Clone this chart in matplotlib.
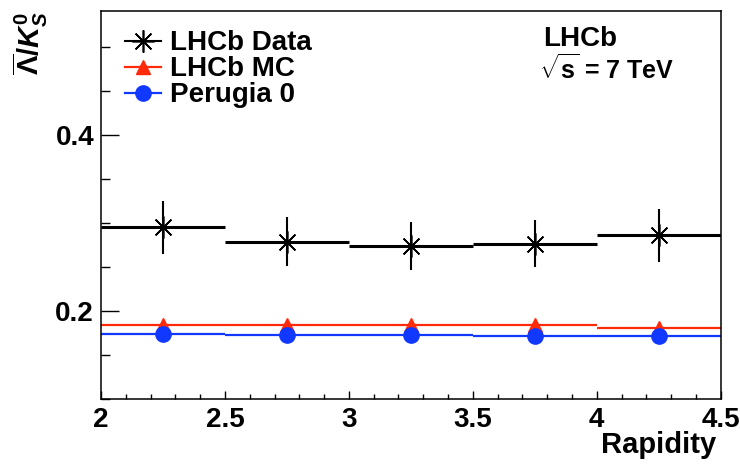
import matplotlib as mpl
mpl.use("Agg")
import matplotlib.pyplot as plt
import numpy as np
from matplotlib.lines import Line2D
from matplotlib.ticker import MultipleLocator, FixedLocator

mpl.rcParams.update({
    "font.family": "Liberation Sans",
    "font.weight": "bold",
    "mathtext.fontset": "custom",
    "mathtext.rm": "Liberation Sans:bold",
    "mathtext.it": "Liberation Sans:italic:bold",
    "mathtext.bf": "Liberation Sans:bold",
})

# rapidity bins
edges = [2.0, 2.5, 3.0, 3.5, 4.0, 4.5]
centers = [2.25, 2.75, 3.25, 3.75, 4.25]
data = [0.295, 0.279, 0.274, 0.2765, 0.286]
data_err = [0.030, 0.028, 0.027, 0.027, 0.030]
mc = [0.1845, 0.1845, 0.184, 0.1837, 0.181]
perugia = [0.174, 0.1727, 0.1727, 0.172, 0.1712]

RED = "#ff2a0a"
BLUE = "#1038ff"
STAR = (8, 2, 0)

fig = plt.figure(figsize=(7.4, 4.68), dpi=100)
ax = fig.add_axes([0.1365, 0.1474, 0.8375, 0.829])

ax.hlines(mc, edges[:-1], edges[1:], color=RED, lw=1.6)
ax.plot(centers, mc, ls="none", marker="^", ms=10, color=RED)
ax.hlines(perugia, edges[:-1], edges[1:], color=BLUE, lw=1.6)
ax.plot(centers, perugia, ls="none", marker="o", ms=11, color=BLUE)
ax.hlines(data, edges[:-1], edges[1:], color="black", lw=2.2)
ax.errorbar(centers, data, yerr=data_err, fmt="none", ecolor="black", elinewidth=1.5)
ax.plot(centers, data, ls="none", marker=STAR, ms=16, mew=1.2, color="black")

ax.set_xlim(2.0, 4.5)
ax.set_ylim(0.1, 0.541)
ax.xaxis.set_major_locator(MultipleLocator(0.5))
ax.xaxis.set_minor_locator(MultipleLocator(0.1))
ax.yaxis.set_major_locator(FixedLocator([0.2, 0.4]))
ax.yaxis.set_minor_locator(MultipleLocator(0.05))
ax.xaxis.set_major_formatter(mpl.ticker.FuncFormatter(lambda v, p: f"{v:g}"))
ax.yaxis.set_major_formatter(mpl.ticker.FuncFormatter(lambda v, p: f"{v:.1f}"))
ax.tick_params(axis="both", which="both", direction="in", labelsize=20, width=1.0)
ax.tick_params(axis="x", which="major", length=6, pad=6)
ax.tick_params(axis="x", which="minor", length=3.6)
ax.tick_params(axis="y", which="major", length=13, pad=5)
ax.tick_params(axis="y", which="minor", length=6.5)
for s in ax.spines.values():
    s.set_linewidth(1.1)

ax.set_xlabel("Rapidity", fontsize=21, fontweight="bold", loc="right")
ax.xaxis.set_label_coords(0.9935, -0.083)
ax.set_ylabel(r"$\overline{\mathrm{\Lambda}}/K^{0}_{S}$", fontsize=21, loc="top")
ax.yaxis.set_label_coords(-0.082, 1.0)

handles = [
    Line2D([], [], color="black", lw=1.5, marker=STAR, ms=16, mew=1.2),
    Line2D([], [], color=RED, lw=1.6, marker="^", ms=10),
    Line2D([], [], color=BLUE, lw=1.6, marker="o", ms=11),
]
labels = ["LHCb Data", "LHCb MC", "Perugia 0"]
ax.legend(handles, labels, loc="upper left", bbox_to_anchor=(0.038, 0.95), frameon=False,
          fontsize=20, handlelength=1.3, handletextpad=0.35, labelspacing=0.0,
          borderpad=0.0, borderaxespad=0.0)

ax.text(0.713, 0.962, "LHCb", transform=ax.transAxes, fontsize=20, va="top", ha="left")
ax.text(0.706, 0.888, r"$\sqrt{\mathrm{s}}$ = 7 TeV", transform=ax.transAxes,
        fontsize=18, va="top", ha="left")

fig.savefig("out.png", dpi=100)
